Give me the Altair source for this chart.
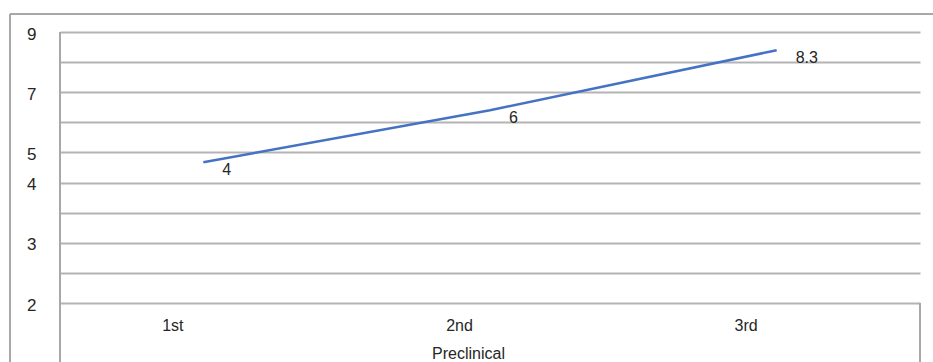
import altair as alt
import pandas as pd

# ---- data ----
categories = ["1st", "2nd", "3rd"]
values = [4, 6, 8.3]
value_labels = ["4", "6", "8.3"]
# y tick labels, bottom gridline to top gridline
y_tick_labels = ["2", "", "3", "", "4", "5", "", "7", "", "9"]
x_title = "Preclinical"

df = pd.DataFrame({"cat": categories, "val": values, "lab": value_labels})
grid_df = pd.DataFrame({"idx": list(range(len(y_tick_labels)))})

FONT = "Liberation Sans"
GRID = "#b4b4b4"
FRAME = "#a8a8a8"
TXT = "#262626"
W, H = 860, 271

label_js = "[" + ",".join("'" + s + "'" for s in y_tick_labels) + "][datum.value]"

grid_layer = alt.Chart(grid_df).mark_point(opacity=0).encode(
    y=alt.Y(
        "idx:Q",
        scale=alt.Scale(domain=[0, len(y_tick_labels) - 1], nice=False, zero=False),
        axis=alt.Axis(
            values=list(range(len(y_tick_labels))),
            labelExpr=label_js,
            title=None,
            grid=True,
            gridColor=GRID,
            gridWidth=2,
            domain=False,
            ticks=False,
            labelPadding=24,
            labelFont=FONT,
            labelFontSize=17,
            labelColor=TXT,
            labelOffset=2,
        ),
    )
)

xenc = alt.X(
    "cat:N",
    sort=categories,
    scale=alt.Scale(type="point", padding=0.5),
    axis=alt.Axis(
        title=x_title,
        domain=False,
        ticks=False,
        grid=False,
        labelAngle=0,
        labelPadding=14,
        labelOffset=-31,
        labelFont=FONT,
        labelFontSize=16,
        labelColor=TXT,
        titleFont=FONT,
        titleFontSize=16,
        titleFontWeight="normal",
        titleColor=TXT,
        titleX=408,
        titleY=42,
        titleBaseline="top",
    ),
)
yenc = alt.Y("val:Q", scale=alt.Scale(domain=[-1.4, 9], nice=False, zero=False), axis=None)

line_layer = alt.Chart(df).mark_line(color="#4472C4", strokeWidth=2.5).encode(x=xenc, y=yenc)
text_layer = alt.Chart(df).mark_text(
    align="left", baseline="top", dx=19, dy=0, font=FONT, fontSize=16, color=TXT
).encode(x=xenc, y=yenc, text="lab:N")

one = pd.DataFrame({"a": [0]})
frame_top = alt.Chart(one).mark_rule(color=FRAME, strokeWidth=2).encode(
    x=alt.value(-50), x2=alt.value(880), y=alt.value(-18))
frame_left = alt.Chart(one).mark_rule(color=FRAME, strokeWidth=2).encode(
    x=alt.value(-50), y=alt.value(-18), y2=alt.value(335))
plot_left = alt.Chart(one).mark_rule(color=FRAME, strokeWidth=2).encode(
    x=alt.value(0), y=alt.value(0), y2=alt.value(335))
plot_right = alt.Chart(one).mark_rule(color=FRAME, strokeWidth=2).encode(
    x=alt.value(W), y=alt.value(H), y2=alt.value(335))

chart = (
    alt.layer(grid_layer, frame_top, frame_left, plot_left, plot_right, line_layer, text_layer)
    .resolve_scale(y="independent")
    .properties(
        width=W,
        height=H,
        autosize=alt.AutoSizeParams(type="none"),
        padding={"left": 60, "top": 32, "right": 13, "bottom": 59},
        background="white",
    )
    .configure_view(stroke=None)
)

chart.save("out.html", embed_options={"renderer": "svg", "actions": False})
